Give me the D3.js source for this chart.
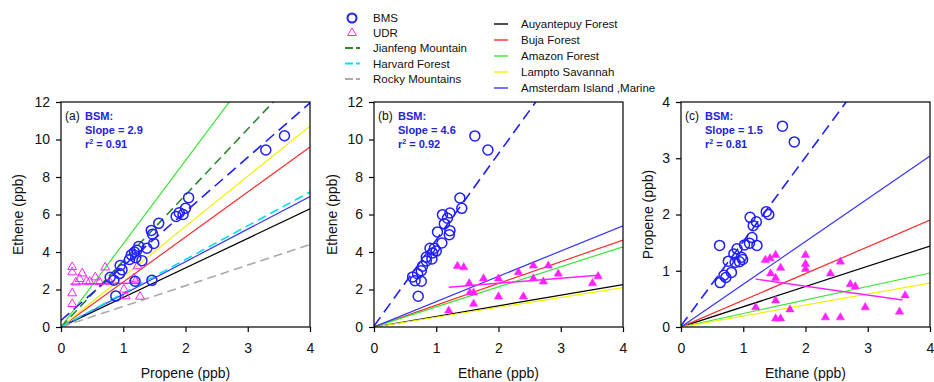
<!DOCTYPE html>
<html>
<head>
<meta charset="utf-8">
<script src="https://cdn.jsdelivr.net/npm/d3@7"></script>
<style>
body { margin: 0; background: #fff; }
svg { display: block; font-family: Arial, "Liberation Sans", sans-serif; }
</style>
</head>
<body>
<svg id="chart" width="934" height="382"></svg>
<script>
// ticks
var xTicks = [0, 1, 2, 3, 4];
var yTicksEthene = [0, 2, 4, 6, 8, 10, 12];
var yTicksPropene = [0, 1, 2, 3, 4];

// reference sites (solid lines), ratio = slope through origin
var siteNames = ["Auyantepuy Forest", "Buja Forest", "Amazon Forest", "Lampto Savannah", "Amsterdam Island ,Marine"];
var siteSlopesA = [1.575, 2.4, 4.44, 2.68, 1.74];
var siteSlopesB = [0.565, 1.16, 1.07, 0.525, 1.35];
var siteSlopesC = [0.36, 0.475, 0.24, 0.195, 0.76];

// dashed reference sites, only in (a)
var dashedNames = ["Jianfeng Mountain", "Harvard Forest", "Rocky Mountains"];
var dashedSlopesA = [3.52, 1.8, 1.1];

// BMS regression: slope, intercept, r2
var bmsSlopes = [2.9, 4.6, 1.5];
var bmsIntercepts = [0.35, 0.05, 0.02];
var bmsR2 = [0.91, 0.92, 0.81];

// UDR regression: slope, intercept, x from, x to
var udrFitA = [0.054, 2.28, 0.15, 1.27];
var udrFitB = [0.267, 1.80, 1.2, 3.6];
var udrFitC = [-0.157, 1.04, 1.2, 3.56];

// (a) propene vs ethene
var bmsA = [
	[3.59, 10.2], [3.29, 9.44], [2.05, 6.9], [2.0, 6.33], [1.96, 6.0], [1.9, 6.1], [1.85, 5.9],
	[1.57, 5.53], [1.45, 5.15], [1.47, 4.95], [1.49, 4.46], [1.38, 4.2], [1.25, 4.3], [1.22, 4.1],
	[1.3, 3.54], [1.18, 4.0], [1.13, 3.85], [1.1, 3.6], [1.2, 3.7], [0.95, 3.28], [0.98, 3.05],
	[0.94, 2.85], [0.79, 2.65], [0.85, 2.5], [1.19, 2.44], [1.46, 2.49], [0.88, 1.65]
];
var udrA = [
	[0.18, 3.2], [0.18, 2.92], [0.34, 2.86], [0.3, 2.56], [0.24, 2.38], [0.46, 2.42], [0.55, 2.65],
	[0.71, 3.18], [0.18, 1.8], [0.18, 1.23], [0.78, 2.42], [1.23, 3.24], [1.17, 2.58], [1.2, 2.45],
	[1.01, 2.0], [1.04, 1.64], [1.27, 1.62], [0.41, 2.44], [0.62, 2.4]
];

// (b) ethane vs ethene
var bmsB = [
	[1.62, 10.19], [1.83, 9.44], [1.38, 6.88], [1.41, 6.33], [1.22, 6.08], [1.1, 5.99], [1.18, 5.8],
	[1.13, 5.51], [1.02, 5.07], [1.22, 5.14], [1.21, 4.92], [1.09, 4.48], [0.9, 4.2], [0.97, 4.2],
	[0.94, 3.95], [0.84, 3.73], [0.93, 3.63], [0.84, 3.52], [0.78, 3.24], [0.76, 3.0], [0.7, 2.84],
	[0.62, 2.67], [0.66, 2.47], [0.76, 2.44], [0.71, 1.64], [1.0, 4.05]
];
var udrB = [
	[1.34, 3.25], [1.44, 3.18], [1.53, 2.33], [1.76, 2.58], [2.0, 2.58], [2.32, 2.92], [2.56, 3.27],
	[2.8, 3.27], [2.96, 2.84], [2.56, 2.58], [2.72, 2.42], [3.6, 2.7], [3.51, 2.33], [1.54, 1.83],
	[1.6, 1.83], [2.0, 1.62], [2.4, 1.62], [1.6, 1.23], [1.2, 0.87]
];

// (c) ethane vs propene
var bmsC = [
	[1.63, 3.57], [1.82, 3.29], [1.37, 2.05], [1.41, 2.0], [1.11, 1.95], [1.21, 1.87], [1.16, 1.8],
	[1.14, 1.59], [1.1, 1.49], [1.02, 1.46], [1.22, 1.45], [0.62, 1.45], [0.9, 1.39], [0.85, 1.3],
	[0.97, 1.24], [0.94, 1.16], [0.99, 1.2], [0.76, 1.17], [0.81, 0.97], [0.69, 0.92], [0.72, 0.88],
	[0.63, 0.79], [0.87, 1.15]
];
var udrC = [
	[1.355, 1.19], [1.43, 1.22], [1.52, 1.28], [1.44, 0.95], [1.52, 0.87], [1.6, 1.05], [2.0, 1.28],
	[2.0, 1.12], [2.0, 1.03], [2.4, 0.95], [2.56, 1.16], [2.72, 0.76], [2.8, 0.72], [1.2, 0.35],
	[1.52, 0.47], [1.75, 0.31], [1.52, 0.15], [1.6, 0.15], [2.32, 0.17], [2.56, 0.17], [2.96, 0.35],
	[3.51, 0.27], [3.6, 0.56]
];

var siteColors = ["#000000", "#ff2b2b", "#33e833", "#f2f200", "#3535ff"];
var dashedColors = ["#2a8a2a", "#00e0ee", "#aaaaaa"];
var bmsColor = "#1f1fff";
var textBlue = "#2323e0";
var udrColor = "#ff22ff";

var plotTop = 102, plotBottom = 327, plotW = 249;

var panels = [
	{ tag: "a", left: 61, yMax: 12, yTicks: yTicksEthene, xTitle: "Propene (ppb)", yTitle: "Ethene (ppb)", yTitleOff: 38,
	  bms: bmsA, udr: udrA, udrOpen: true, slopes: siteSlopesA, dashed: dashedSlopesA, udrFit: udrFitA },
	{ tag: "b", left: 374, yMax: 12, yTicks: yTicksEthene, xTitle: "Ethane (ppb)", yTitle: "Ethene (ppb)", yTitleOff: 37,
	  bms: bmsB, udr: udrB, udrOpen: false, slopes: siteSlopesB, dashed: [], udrFit: udrFitB },
	{ tag: "c", left: 681, yMax: 4, yTicks: yTicksPropene, xTitle: "Ethane (ppb)", yTitle: "Propene (ppb)", yTitleOff: 28,
	  bms: bmsC, udr: udrC, udrOpen: false, slopes: siteSlopesC, dashed: [], udrFit: udrFitC }
];

var svg = d3.select("#chart");
var defs = svg.append("defs");

function drawPanel(p, idx) {
	var g = svg.append("g");
	var x = d3.scaleLinear().domain([0, 4]).range([p.left, p.left + plotW]);
	var y = d3.scaleLinear().domain([0, p.yMax]).range([plotBottom, plotTop]);
	var line = d3.line().x(function(d) { return x(d[0]); }).y(function(d) { return y(d[1]); });

	defs.append("clipPath").attr("id", "clip-" + p.tag)
		.append("rect").attr("x", p.left).attr("y", plotTop).attr("width", plotW).attr("height", plotBottom - plotTop);
	var plot = g.append("g").attr("clip-path", "url(#clip-" + p.tag + ")");

	// reference site ratios
	p.slopes.forEach(function(s, i) {
		plot.append("path").attr("d", line([[0, 0], [4, 4 * s]]))
			.attr("fill", "none").attr("stroke", siteColors[i]).attr("stroke-width", 1.2);
	});
	p.dashed.forEach(function(s, i) {
		plot.append("path").attr("d", line([[0, 0], [4, 4 * s]]))
			.attr("fill", "none").attr("stroke", dashedColors[i]).attr("stroke-width", 1.6)
			.attr("stroke-dasharray", "9,5");
	});

	// UDR points
	var tri = d3.symbol().type(d3.symbolTriangle).size(p.udrOpen ? 34 : 30);
	g.selectAll(".udr").data(p.udr).enter().append("path")
		.attr("transform", function(d) { return "translate(" + x(d[0]) + "," + y(d[1]) + ")"; })
		.attr("d", tri)
		.attr("fill", p.udrOpen ? "none" : udrColor)
		.attr("stroke", udrColor).attr("stroke-width", p.udrOpen ? 1 : 0.5);

	// BMS points
	g.selectAll(".bms").data(p.bms).enter().append("circle")
		.attr("cx", function(d) { return x(d[0]); })
		.attr("cy", function(d) { return y(d[1]); })
		.attr("r", 5)
		.attr("fill", "none").attr("stroke", bmsColor).attr("stroke-width", 1.5);

	// fits
	var f = p.udrFit;
	plot.append("path").attr("d", line([[f[2], f[1] + f[0] * f[2]], [f[3], f[1] + f[0] * f[3]]]))
		.attr("fill", "none").attr("stroke", udrColor).attr("stroke-width", 1.4);
	plot.append("path").attr("d", line([[0, bmsIntercepts[idx]], [4, bmsIntercepts[idx] + 4 * bmsSlopes[idx]]]))
		.attr("fill", "none").attr("stroke", bmsColor).attr("stroke-width", 1.6)
		.attr("stroke-dasharray", "11,6");

	// frame
	g.append("rect").attr("x", p.left).attr("y", plotTop).attr("width", plotW).attr("height", plotBottom - plotTop)
		.attr("fill", "none").attr("stroke", "#000").attr("stroke-width", 1.2);

	// axes
	var xa = g.append("g").attr("transform", "translate(0," + plotBottom + ")")
		.call(d3.axisBottom(x).tickValues(xTicks).tickFormat(d3.format("d")).tickSize(5).tickPadding(11).tickSizeOuter(0));
	var ya = g.append("g").attr("transform", "translate(" + p.left + ",0)")
		.call(d3.axisLeft(y).tickValues(p.yTicks).tickFormat(d3.format("d")).tickSize(5).tickPadding(6).tickSizeOuter(0));
	[xa, ya].forEach(function(a) {
		a.select(".domain").remove();
		a.attr("font-family", null).attr("font-size", null);
		a.selectAll("text").attr("font-size", 14).attr("fill", "#111");
		a.selectAll("line").attr("stroke", "#000").attr("stroke-width", 1.2);
	});

	// titles
	g.append("text").attr("x", p.left + plotW / 2).attr("y", 378)
		.attr("text-anchor", "middle").attr("font-size", 14).attr("fill", "#111").text(p.xTitle);
	g.append("text").attr("transform", "translate(" + (p.left - p.yTitleOff) + "," + ((plotTop + plotBottom) / 2) + ") rotate(-90)")
		.attr("text-anchor", "middle").attr("font-size", 14).attr("fill", "#111").text(p.yTitle);

	// annotation
	g.append("text").attr("x", p.left + 4).attr("y", 120).attr("font-size", 12).attr("fill", "#111")
		.text("(" + p.tag + ")");
	var ann = g.append("g").attr("font-size", 11).attr("font-weight", "bold").attr("fill", textBlue);
	ann.append("text").attr("x", p.left + 24).attr("y", 120).text("BSM:");
	ann.append("text").attr("x", p.left + 24).attr("y", 134).text("Slope = " + bmsSlopes[idx]);
	var r2 = ann.append("text").attr("x", p.left + 24).attr("y", 147.5);
	r2.append("tspan").text("r");
	r2.append("tspan").attr("dy", -4).attr("font-size", 7).text("2");
	r2.append("tspan").attr("dy", 4).text(" = " + bmsR2[idx].toFixed(2));
}

panels.forEach(drawPanel);

// legend
var lg = svg.append("g").attr("font-size", 11.5).attr("fill", "#111");
lg.append("circle").attr("cx", 352).attr("cy", 18).attr("r", 4.5)
	.attr("fill", "none").attr("stroke", bmsColor).attr("stroke-width", 2);
lg.append("text").attr("x", 373).attr("y", 22).text("BMS");
lg.append("path").attr("transform", "translate(352,33)")
	.attr("d", d3.symbol().type(d3.symbolTriangle).size(34))
	.attr("fill", "none").attr("stroke", udrColor).attr("stroke-width", 1);
lg.append("text").attr("x", 373).attr("y", 37).text("UDR");
dashedNames.forEach(function(name, i) {
	var yy = 48 + i * 15.5;
	lg.append("line").attr("x1", 345).attr("x2", 360).attr("y1", yy).attr("y2", yy)
		.attr("stroke", dashedColors[i]).attr("stroke-width", 1.8).attr("stroke-dasharray", "8,3");
	lg.append("text").attr("x", 373).attr("y", yy + 4).text(name);
});
siteNames.forEach(function(name, i) {
	var yy = 24 + i * 16;
	lg.append("line").attr("x1", 494).attr("x2", 508).attr("y1", yy).attr("y2", yy)
		.attr("stroke", siteColors[i]).attr("stroke-width", 1.4);
	lg.append("text").attr("x", 521).attr("y", yy + 4).text(name);
});
</script>
</body>
</html>
